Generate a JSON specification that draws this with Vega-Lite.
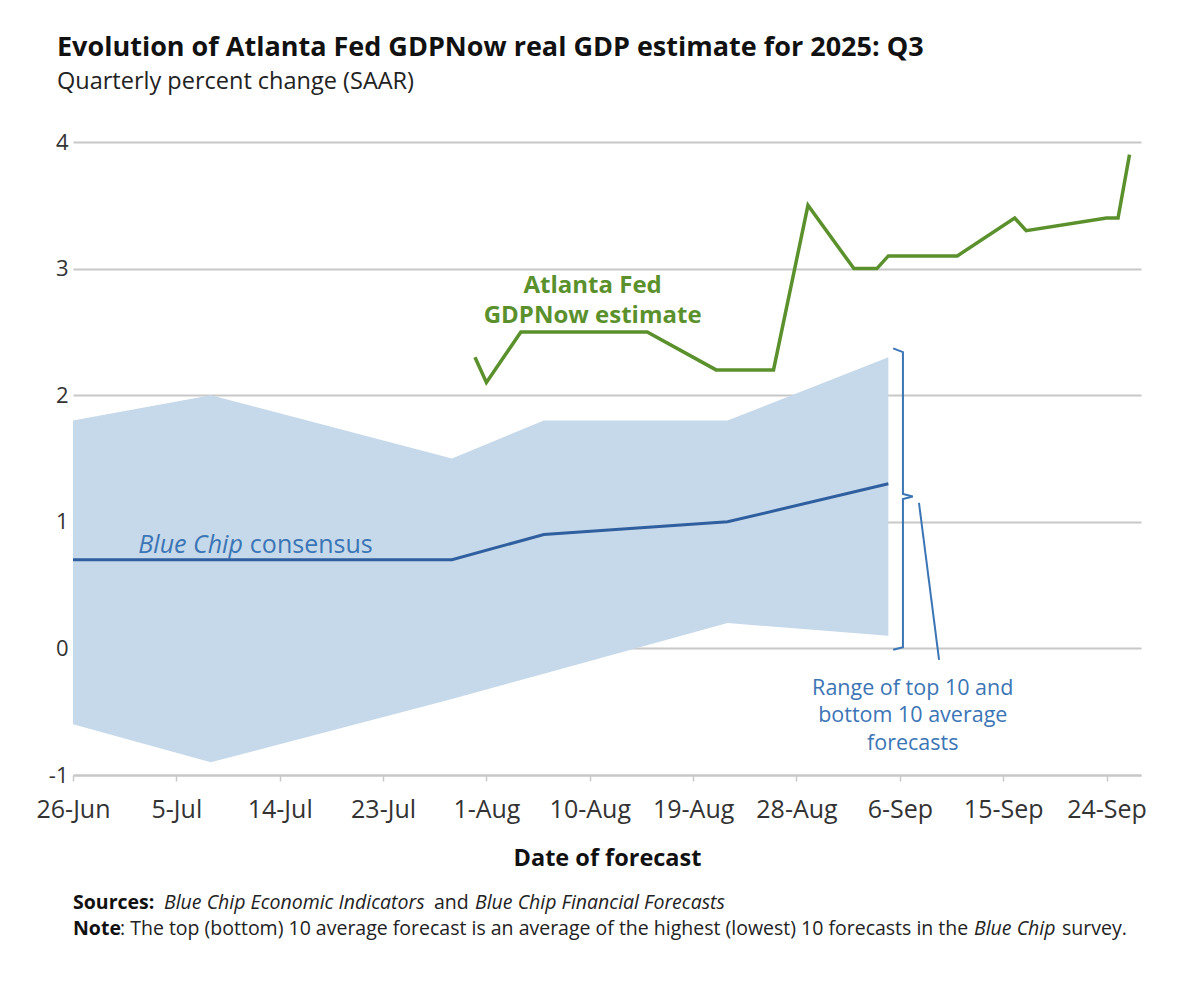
{
  "$schema": "https://vega.github.io/schema/vega-lite/v6.json",
  "description": "Atlanta Fed GDPNow vs Blue Chip consensus, 2025 Q3",
  "width": 1068,
  "height": 633,
  "autosize": {"type": "none"},
  "padding": {"left": 73, "top": 142, "right": 59, "bottom": 213},
  "config": {"view": {"stroke": null}, "font": "Open Sans"},

  "title": {
    "text": "Evolution of Atlanta Fed GDPNow real GDP estimate for 2025: Q3",
    "subtitle": "Quarterly percent change (SAAR)",
    "anchor": "start",
    "frame": "group",
    "dx": -16,
    "offset": 37,
    "font": "Open Sans",
    "fontSize": 27,
    "fontWeight": "bold",
    "color": "#111111",
    "subtitleFont": "Open Sans",
    "subtitleFontSize": 23.5,
    "subtitleColor": "#222222",
    "subtitlePadding": 8
  },

  "datasets": {
    "bluechip": [
      {"date": "2025-06-26", "low": -0.6, "high": 1.8, "consensus": 0.7},
      {"date": "2025-07-08", "low": -0.9, "high": 2.0, "consensus": 0.7},
      {"date": "2025-07-29", "low": -0.4, "high": 1.5, "consensus": 0.7},
      {"date": "2025-08-06", "low": -0.2, "high": 1.8, "consensus": 0.9},
      {"date": "2025-08-22", "low": 0.2, "high": 1.8, "consensus": 1.0},
      {"date": "2025-09-05", "low": 0.1, "high": 2.3, "consensus": 1.3}
    ],
    "gdpnow": [
      {"date": "2025-07-31", "value": 2.3},
      {"date": "2025-08-01", "value": 2.1},
      {"date": "2025-08-04", "value": 2.5},
      {"date": "2025-08-07", "value": 2.5},
      {"date": "2025-08-15", "value": 2.5},
      {"date": "2025-08-21", "value": 2.2},
      {"date": "2025-08-26", "value": 2.2},
      {"date": "2025-08-29", "value": 3.5},
      {"date": "2025-09-02", "value": 3.0},
      {"date": "2025-09-04", "value": 3.0},
      {"date": "2025-09-05", "value": 3.1},
      {"date": "2025-09-11", "value": 3.1},
      {"date": "2025-09-16", "value": 3.4},
      {"date": "2025-09-17", "value": 3.3},
      {"date": "2025-09-24", "value": 3.4},
      {"date": "2025-09-25", "value": 3.4},
      {"date": "2025-09-26", "value": 3.9}
    ],
    "bracket": [
      {"piece": "brace", "seq": 1, "date": "2025-09-05T10:00:00Z", "value": 2.37},
      {"piece": "brace", "seq": 2, "date": "2025-09-06T06:30:00Z", "value": 2.34},
      {"piece": "brace", "seq": 3, "date": "2025-09-06T06:30:00Z", "value": 1.22},
      {"piece": "brace", "seq": 4, "date": "2025-09-07T03:00:00Z", "value": 1.2},
      {"piece": "brace", "seq": 5, "date": "2025-09-06T06:30:00Z", "value": 1.18},
      {"piece": "brace", "seq": 6, "date": "2025-09-06T06:30:00Z", "value": 0.01},
      {"piece": "brace", "seq": 7, "date": "2025-09-05T10:00:00Z", "value": -0.01},
      {"piece": "leader", "seq": 1, "date": "2025-09-07T16:00:00Z", "value": 1.15},
      {"piece": "leader", "seq": 2, "date": "2025-09-09T10:00:00Z", "value": -0.09}
    ]
  },

  "layer": [
    {
      "data": {"name": "bluechip"},
      "mark": {"type": "area", "color": "#c6d9ea", "opacity": 1},
      "encoding": {
        "x": {
          "field": "date",
          "type": "temporal",
          "scale": {
            "type": "utc",
            "nice": false,
            "domain": [
              {"year": 2025, "month": 6, "date": 26, "utc": true},
              {"year": 2025, "month": 9, "date": 27, "utc": true}
            ]
          },
          "axis": {
            "title": "Date of forecast",
            "format": "%-d-%b",
            "values": [
              {"year": 2025, "month": 6, "date": 26, "utc": true},
              {"year": 2025, "month": 7, "date": 5, "utc": true},
              {"year": 2025, "month": 7, "date": 14, "utc": true},
              {"year": 2025, "month": 7, "date": 23, "utc": true},
              {"year": 2025, "month": 8, "date": 1, "utc": true},
              {"year": 2025, "month": 8, "date": 10, "utc": true},
              {"year": 2025, "month": 8, "date": 19, "utc": true},
              {"year": 2025, "month": 8, "date": 28, "utc": true},
              {"year": 2025, "month": 9, "date": 6, "utc": true},
              {"year": 2025, "month": 9, "date": 15, "utc": true},
              {"year": 2025, "month": 9, "date": 24, "utc": true}
            ],
            "grid": false,
            "domainColor": "#c8c8c8",
            "domainWidth": 2,
            "tickColor": "#c8c8c8",
            "tickWidth": 1.5,
            "tickSize": 6,
            "labelFont": "Open Sans",
            "labelFontSize": 25,
            "labelColor": "#333333",
            "labelPadding": 16,
            "labelFlush": false,
            "labelOverlap": false,
            "titleFont": "Open Sans",
            "titleFontSize": 23.5,
            "titleFontWeight": "bold",
            "titleColor": "#111111",
            "titlePadding": 24
          }
        },
        "y": {
          "field": "low",
          "type": "quantitative",
          "scale": {"domain": [-1, 4], "nice": false, "zero": false},
          "axis": {
            "title": null,
            "values": [-1, 0, 1, 2, 3, 4],
            "labelExpr": "'' + datum.value",
            "grid": true,
            "gridColor": "#c8c8c8",
            "gridWidth": 2,
            "domain": false,
            "ticks": false,
            "labelFont": "Open Sans",
            "labelFontSize": 22,
            "labelColor": "#333333",
            "labelPadding": 5
          }
        },
        "y2": {"field": "high"}
      }
    },
    {
      "data": {"name": "bluechip"},
      "mark": {"type": "line", "color": "#2f5f9f", "strokeWidth": 3},
      "encoding": {
        "x": {"field": "date", "type": "temporal"},
        "y": {"field": "consensus", "type": "quantitative", "axis": {"title": null}}
      }
    },
    {
      "data": {"name": "gdpnow"},
      "mark": {"type": "line", "color": "#5b912c", "strokeWidth": 3.5},
      "encoding": {
        "x": {"field": "date", "type": "temporal"},
        "y": {"field": "value", "type": "quantitative", "axis": {"title": null}}
      }
    },
    {
      "data": {"name": "bracket"},
      "mark": {"type": "line", "color": "#3b75b5", "strokeWidth": 2},
      "encoding": {
        "x": {"field": "date", "type": "temporal"},
        "y": {"field": "value", "type": "quantitative", "axis": {"title": null}},
        "detail": {"field": "piece"},
        "order": {"field": "seq"}
      }
    },
    {
      "data": {"values": [{}]},
      "mark": {
        "type": "text",
        "text": ["Atlanta Fed", "GDPNow estimate"],
        "align": "center",
        "baseline": "middle",
        "lineHeight": 30,
        "font": "Open Sans",
        "fontSize": 24,
        "fontWeight": "bold",
        "color": "#5b912c"
      },
      "encoding": {
        "x": {"datum": {"year": 2025, "month": 8, "date": 10, "hours": 6, "utc": true}},
        "y": {"datum": 2.86}
      }
    },
    {
      "data": {"values": [{}]},
      "mark": {
        "type": "text",
        "text": "Blue Chip",
        "align": "right",
        "baseline": "middle",
        "font": "Open Sans",
        "fontSize": 25,
        "fontStyle": "italic",
        "color": "#3b75b5"
      },
      "encoding": {
        "x": {"datum": {"year": 2025, "month": 7, "date": 10, "hours": 19, "utc": true}},
        "y": {"datum": 0.82}
      }
    },
    {
      "data": {"values": [{}]},
      "mark": {
        "type": "text",
        "text": "consensus",
        "align": "left",
        "baseline": "middle",
        "dx": 7,
        "font": "Open Sans",
        "fontSize": 25,
        "color": "#3b75b5"
      },
      "encoding": {
        "x": {"datum": {"year": 2025, "month": 7, "date": 10, "hours": 19, "utc": true}},
        "y": {"datum": 0.82}
      }
    },
    {
      "data": {"values": [{}]},
      "mark": {
        "type": "text",
        "text": ["Range of top 10 and", "bottom 10 average", "forecasts"],
        "align": "center",
        "baseline": "middle",
        "lineHeight": 27.5,
        "font": "Open Sans",
        "fontSize": 21.5,
        "color": "#3b75b5"
      },
      "encoding": {
        "x": {"datum": {"year": 2025, "month": 9, "date": 7, "hours": 3, "utc": true}},
        "y": {"datum": -0.32}
      }
    },
    {
      "data": {"values": [{}]},
      "mark": {"type": "text", "text": "Sources:", "align": "left", "baseline": "middle", "font": "Open Sans", "fontSize": 19.5, "fontWeight": "bold", "color": "#111111"},
      "encoding": {"x": {"datum": {"year": 2025, "month": 6, "date": 26, "utc": true}}, "y": {"datum": -2.01}}
    },
    {
      "data": {"values": [{}]},
      "mark": {"type": "text", "text": "Blue Chip Economic Indicators", "align": "left", "baseline": "middle", "dx": 91, "font": "Open Sans", "fontSize": 19.5, "fontStyle": "italic", "color": "#222222"},
      "encoding": {"x": {"datum": {"year": 2025, "month": 6, "date": 26, "utc": true}}, "y": {"datum": -2.01}}
    },
    {
      "data": {"values": [{}]},
      "mark": {"type": "text", "text": "and", "align": "left", "baseline": "middle", "dx": 361, "font": "Open Sans", "fontSize": 19.5, "color": "#222222"},
      "encoding": {"x": {"datum": {"year": 2025, "month": 6, "date": 26, "utc": true}}, "y": {"datum": -2.01}}
    },
    {
      "data": {"values": [{}]},
      "mark": {"type": "text", "text": "Blue Chip Financial Forecasts", "align": "left", "baseline": "middle", "dx": 402, "font": "Open Sans", "fontSize": 19.5, "fontStyle": "italic", "color": "#222222"},
      "encoding": {"x": {"datum": {"year": 2025, "month": 6, "date": 26, "utc": true}}, "y": {"datum": -2.01}}
    },
    {
      "data": {"values": [{}]},
      "mark": {"type": "text", "text": "Note", "align": "left", "baseline": "middle", "font": "Open Sans", "fontSize": 19.5, "fontWeight": "bold", "color": "#111111"},
      "encoding": {"x": {"datum": {"year": 2025, "month": 6, "date": 26, "utc": true}}, "y": {"datum": -2.22}}
    },
    {
      "data": {"values": [{}]},
      "mark": {"type": "text", "text": ": The top (bottom) 10 average forecast is an average of the highest (lowest) 10 forecasts in the", "align": "left", "baseline": "middle", "dx": 47, "font": "Open Sans", "fontSize": 19.5, "color": "#222222"},
      "encoding": {"x": {"datum": {"year": 2025, "month": 6, "date": 26, "utc": true}}, "y": {"datum": -2.22}}
    },
    {
      "data": {"values": [{}]},
      "mark": {"type": "text", "text": "Blue Chip", "align": "left", "baseline": "middle", "dx": 901, "font": "Open Sans", "fontSize": 19.5, "fontStyle": "italic", "color": "#222222"},
      "encoding": {"x": {"datum": {"year": 2025, "month": 6, "date": 26, "utc": true}}, "y": {"datum": -2.22}}
    },
    {
      "data": {"values": [{}]},
      "mark": {"type": "text", "text": "survey.", "align": "left", "baseline": "middle", "dx": 989, "font": "Open Sans", "fontSize": 19.5, "color": "#222222"},
      "encoding": {"x": {"datum": {"year": 2025, "month": 6, "date": 26, "utc": true}}, "y": {"datum": -2.22}}
    }
  ]
}
